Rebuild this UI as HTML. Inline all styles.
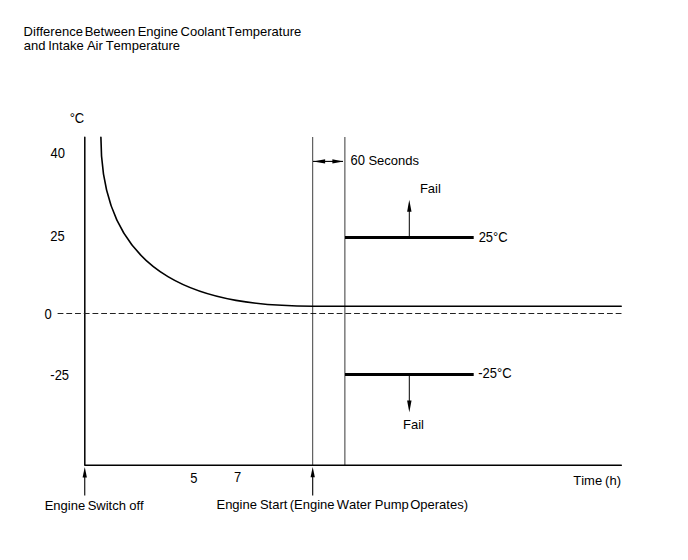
<!DOCTYPE html>
<html><head><meta charset="utf-8">
<style>
html,body{margin:0;padding:0;background:#fff;width:688px;height:560px;overflow:hidden}
svg{display:block}
text{font-family:"Liberation Sans",sans-serif;font-size:13px;fill:#000;font-variant-ligatures:none;font-kerning:none}
</style></head>
<body>
<svg width="688" height="560" viewBox="0 0 688 560">
<!-- axes -->
<path d="M84.8,137.3 V465.2 H621.3" fill="none" stroke="#000" stroke-width="1.5" stroke-linejoin="round" stroke-linecap="round"/>
<!-- dashed zero line -->
<line x1="57.6" y1="313.5" x2="622" y2="313.5" stroke="#222" stroke-width="1.2" stroke-dasharray="5.8 2.92"/>
<!-- curve -->
<path d="M100.9,137.3 C100.9,283.7 209,306.2 313,306.2 L621.2,306.2" fill="none" stroke="#000" stroke-width="1.6" stroke-linecap="round"/>
<!-- vertical lines -->
<line x1="312.7" y1="137" x2="312.7" y2="465" stroke="#000" stroke-width="1" opacity="0.75"/>
<line x1="344.85" y1="137" x2="344.85" y2="465" stroke="#000" stroke-width="1.3" opacity="0.6"/>
<!-- 60 seconds arrows -->
<line x1="313" y1="161.4" x2="343" y2="161.4" stroke="#000" stroke-width="1.1"/>
<path d="M313.2,161.4 L325.1,159.2 L325.1,163.6 Z" fill="#000"/>
<path d="M343.3,161.4 L332.4,159.2 L332.4,163.6 Z" fill="#000"/>
<!-- thick limit lines -->
<rect x="345" y="236" width="128.7" height="3" fill="#000"/>
<rect x="345" y="373" width="128.7" height="3" fill="#000"/>
<!-- fail arrows -->
<line x1="409.3" y1="211" x2="409.3" y2="237" stroke="#000" stroke-width="1"/>
<path d="M409.3,199.8 L411.5,211.8 L407.1,211.8 Z" fill="#000"/>
<line x1="409.3" y1="375" x2="409.3" y2="401" stroke="#000" stroke-width="1"/>
<path d="M409.3,412.2 L411.5,400.6 L407.1,400.6 Z" fill="#000"/>
<!-- bottom arrows -->
<line x1="84.75" y1="477" x2="84.75" y2="495.5" stroke="#000" stroke-width="1.1"/>
<path d="M84.75,467 L86.9,477.5 L82.6,477.5 Z" fill="#000"/>
<line x1="312.7" y1="477" x2="312.7" y2="495.5" stroke="#000" stroke-width="1.1"/>
<path d="M312.7,467 L314.85,477.3 L310.55,477.3 Z" fill="#000"/>

<text x="23.62" y="36" transform="matrix(1,0,0,1.0,0,-0.000)">Difference</text>
<text x="84.68" y="36" transform="matrix(1,0,0,1.0,0,-0.000)">Between</text>
<text x="137.63" y="36" transform="matrix(1,0,0,1.0,0,-0.000)">Engine</text>
<text x="180.53" y="36" transform="matrix(1,0,0,1.0,0,-0.000)">Coolant</text>
<text x="226.83" y="36" transform="matrix(1,0,0,1.0,0,-0.000)">Temperature</text>
<text x="23.87" y="50" transform="matrix(1,0,0,1.0,0,-0.000)">and</text>
<text x="48.26" y="50" transform="matrix(1,0,0,1.0,0,-0.000)">Intake</text>
<text x="86.91" y="50" transform="matrix(1,0,0,1.0,0,-0.000)">Air</text>
<text x="105.68" y="50" transform="matrix(1,0,0,1.0,0,-0.000)">Temperature</text>
<text x="69.67" y="123" transform="matrix(1,0,0,1.1,0,-12.300)">°C</text>
<text x="50.45" y="158" transform="matrix(1,0,0,1.1,0,-15.800)">40</text>
<text x="50.36" y="241" transform="matrix(1,0,0,1.1,0,-24.100)">25</text>
<text x="44.54" y="319" transform="matrix(1,0,0,1.1,0,-31.900)">0</text>
<text x="50.32" y="380" transform="matrix(1,0,0,1.1,0,-38.000)">-25</text>
<text x="350.41" y="165" transform="matrix(1,0,0,1.1,0,-16.500)">60</text>
<text x="368.4" y="165" transform="matrix(1,0,0,1.0,0,-0.000)">Seconds</text>
<text x="419.88" y="193" transform="matrix(1,0,0,1.0,0,-0.000)">Fail</text>
<text x="478.65" y="242" transform="matrix(1,0,0,1.1,0,-24.200)">25°C</text>
<text x="478.21" y="378" transform="matrix(1,0,0,1.1,0,-37.800)">-25°C</text>
<text x="403.03" y="429" transform="matrix(1,0,0,1.0,0,-0.000)">Fail</text>
<text x="190.36" y="483" transform="matrix(1,0,0,1.1,0,-48.300)">5</text>
<text x="234.1" y="482" transform="matrix(1,0,0,1.1,0,-48.200)">7</text>
<text x="573.26" y="485" transform="matrix(1,0,0,1.0,0,-0.000)">Time</text>
<text x="605.12" y="485" transform="matrix(1,0,0,1.0,0,-0.000)">(h)</text>
<text x="44.68" y="510" transform="matrix(1,0,0,1.0,0,-0.000)">Engine</text>
<text x="87.68" y="510" transform="matrix(1,0,0,1.0,0,-0.000)">Switch</text>
<text x="129.21" y="510" transform="matrix(1,0,0,1.0,0,-0.000)">off</text>
<text x="216.48" y="509" transform="matrix(1,0,0,1.0,0,-0.000)">Engine</text>
<text x="259.9" y="509" transform="matrix(1,0,0,1.0,0,-0.000)">Start</text>
<text x="289.72" y="509" transform="matrix(1,0,0,1.0,0,-0.000)">(Engine</text>
<text x="336.72" y="509" transform="matrix(1,0,0,1.0,0,-0.000)">Water</text>
<text x="374.86" y="509" transform="matrix(1,0,0,1.0,0,-0.000)">Pump</text>
<text x="410.21" y="509" transform="matrix(1,0,0,1.0,0,-0.000)">Operates)</text>
</svg>
</body></html>
